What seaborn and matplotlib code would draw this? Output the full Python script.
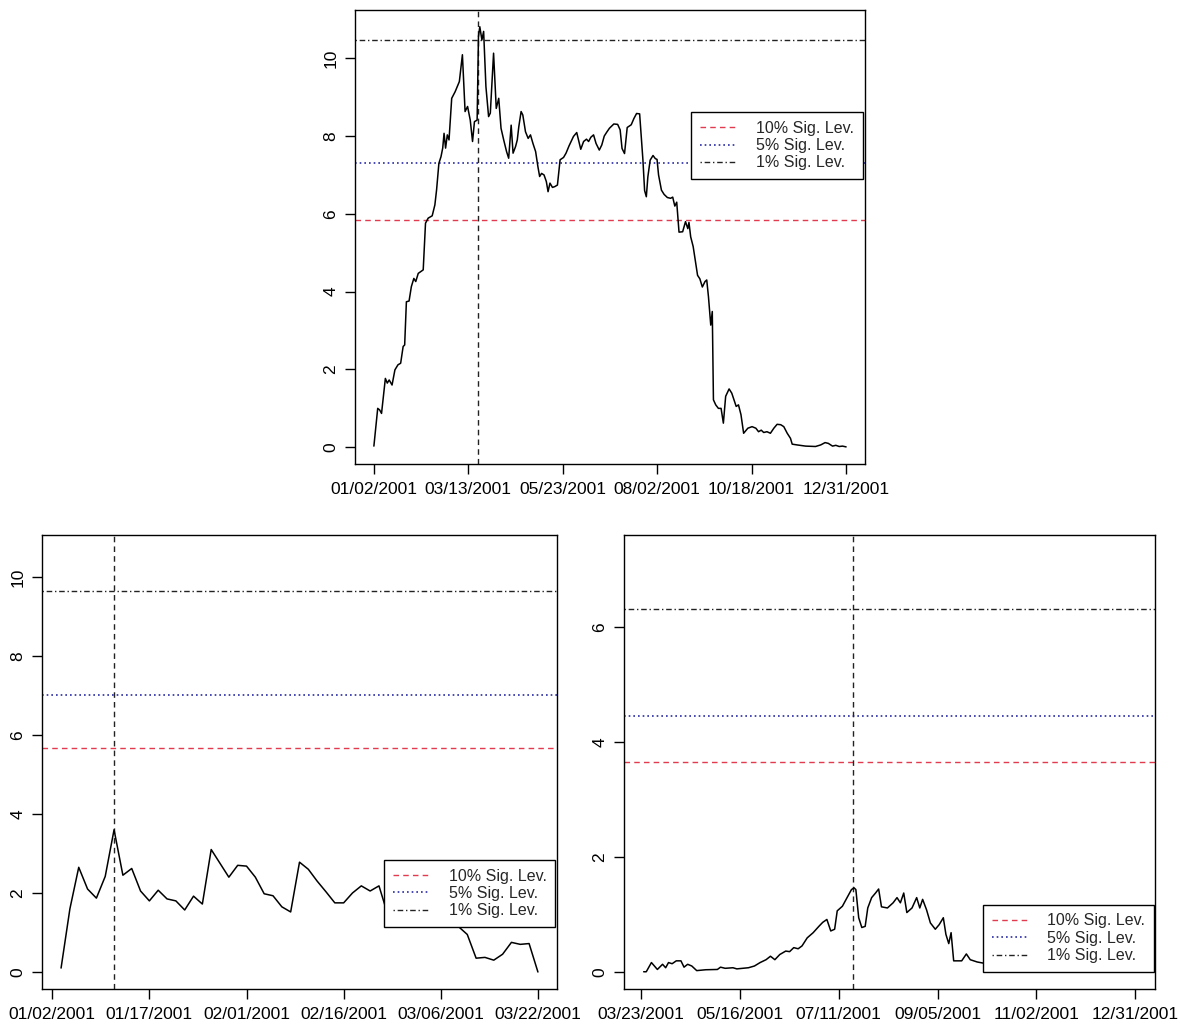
import numpy as np
import matplotlib
matplotlib.use("Agg")
import matplotlib.pyplot as plt
import seaborn as sns

sns.set_style("white")
plt.rcParams['font.family'] = ['Liberation Sans', 'DejaVu Sans']

# ---------------- data ----------------
legend_labels = ["10% Sig. Lev.", "5% Sig. Lev.", "1% Sig. Lev."]

# top panel: full year 2001 (trading-day index)
top_ticklabels = ["01/02/2001", "03/13/2001", "05/23/2001", "08/02/2001", "10/18/2001", "12/31/2001"]
top_idx = [0, 2, 3, 4, 6, 7, 8, 9.5, 11, 12.6, 14, 15.3, 16.1, 17, 18.4, 19.6, 20.9, 21.9, 23.2, 25.8,
           27, 28.4, 30.5, 31.9, 32.8, 34, 35.1, 36, 36.7, 37.5, 38.4, 39.3, 40.7, 42.5, 44.7, 46.3,
           47.7, 49, 50.4, 51.6, 52.6, 54, 54.7, 55.4, 56.5, 57.4, 58.6, 60, 60.9, 62.6, 64, 65.3,
           66.5, 67.9, 69.4, 70.5, 71.8, 72.8, 74.1, 75, 75.8, 77, 77.9, 79.3, 80.7, 81.9, 83.2,
           84.6, 85.8, 86.7, 87.7, 89, 90.2, 91.1, 92.1, 93.4, 94.6, 96, 97.4, 99.2, 100.5, 102.1,
           104.4, 106.1, 108.2, 109.7, 111.2, 112.3, 113.5, 114.9, 116.2, 117.9, 119.2, 120.5,
           121.8, 123.2, 125.5, 127.5, 128.8, 129.8, 131.1, 132.5, 134.6, 136, 137.4, 139, 140.7,
           141.6, 142.5, 143.3, 144.5, 146, 147.2, 148.1, 148.9, 150.4, 151.8, 153.5, 155.2, 156.3,
           157.4, 158.4, 159.6, 161.5, 163, 164.2, 164.8, 165.7, 167, 168.3, 169.3, 170.5, 171.8,
           173.2, 174.1, 175, 175.8, 176.2, 177, 177.6, 178.8, 180.2, 181.6, 182.8, 184, 185.8,
           187.2, 188.6, 189.5, 190.7, 192, 193.4, 195.6, 197.8, 199.8, 201.2, 202.6, 203.9, 205.6,
           207.4, 209.2, 210.9, 212.8, 214.4, 216.2, 217.9, 218.8, 221.4, 225.8, 231, 233.7, 236,
           237.7, 239.9, 241.6, 243.4, 245.1, 247]
top_val = [0.03, 1.0, 0.96, 0.87, 1.77, 1.65, 1.73, 1.6, 1.99, 2.12, 2.16, 2.59, 2.63, 3.74, 3.76, 4.13,
           4.34, 4.26, 4.47, 4.56, 5.76, 5.89, 5.95, 6.23, 6.62, 7.30, 7.47, 7.69, 8.07, 7.69, 8.03,
           7.9, 8.97, 9.14, 9.4, 10.09, 8.63, 8.76, 8.41, 7.86, 8.37, 8.41, 10.56, 10.81, 10.47,
           10.69, 9.27, 8.5, 8.59, 10.13, 8.71, 8.97, 8.2, 7.9, 7.6, 7.43, 8.28, 7.56, 7.73, 7.9,
           8.24, 8.63, 8.54, 8.11, 7.94, 8.03, 7.81, 7.6, 7.21, 6.96, 7.04, 7.0, 6.83, 6.57, 6.79,
           6.68, 6.7, 6.74, 7.39, 7.45, 7.56, 7.75, 7.99, 8.09, 7.66, 7.86, 7.92, 7.86, 7.97, 8.03,
           7.81, 7.64, 7.77, 8.0, 8.1, 8.2, 8.31, 8.3, 8.16, 7.68, 7.55, 8.22, 8.29, 8.45, 8.58,
           8.57, 7.4, 6.6, 6.44, 6.95, 7.38, 7.5, 7.42, 7.4, 7.0, 6.61, 6.5, 6.42, 6.4, 6.43, 6.2,
           6.3, 5.53, 5.54, 5.8, 5.62, 5.78, 5.41, 5.16, 4.75, 4.42, 4.33, 4.12, 4.26, 4.3, 3.87,
           3.4, 3.14, 3.49, 1.22, 1.09, 1.0, 1.0, 0.62, 1.31, 1.5, 1.39, 1.18, 1.05, 1.09, 0.84,
           0.36, 0.49, 0.53, 0.49, 0.4, 0.44, 0.38, 0.4, 0.36, 0.49, 0.59, 0.58, 0.53, 0.36, 0.23,
           0.08, 0.06, 0.03, 0.02, 0.06, 0.12, 0.1, 0.03, 0.05, 0.02, 0.03, 0.01]
top_levels = [5.84, 7.30, 10.47]
top_break = 54.4

# bottom-left panel: 01/02/2001 - 03/22/2001
bl_ticklabels = ["01/02/2001", "01/17/2001", "02/01/2001", "02/16/2001", "03/06/2001", "03/22/2001"]
bl_idx = list(range(1, 56))
bl_val = [0.1, 1.6, 2.65, 2.1, 1.87, 2.42, 3.6, 2.45, 2.62, 2.05, 1.8, 2.07, 1.85, 1.8, 1.57,
          1.92, 1.72, 3.1, 2.75, 2.4, 2.7, 2.68, 2.4, 1.98, 1.93, 1.65, 1.52, 2.78, 2.6, 2.3,
          2.03, 1.75, 1.75, 2.0, 2.18, 2.05, 2.18, 1.45, 1.5, 1.6, 1.4, 1.5, 1.3, 1.3, 1.2,
          1.15, 0.95, 0.35, 0.37, 0.3, 0.45, 0.75, 0.7, 0.72, 0.0]
bl_levels = [5.68, 7.01, 9.65]
bl_break = 7

# bottom-right panel: 03/23/2001 - 12/31/2001
br_ticklabels = ["03/23/2001", "05/16/2001", "07/11/2001", "09/05/2001", "11/02/2001", "12/31/2001"]
br_idx = [1, 2, 4, 6.3, 8.3, 9.5, 10.6, 12, 13.6, 15.4, 16.6, 18, 19.6, 21.5, 25, 29.5, 30.7, 32.5,
          35.5, 37, 41.5, 43.8, 46, 48.3, 50, 51.7, 53.6, 55.9, 57.4, 59, 60.7, 62.2, 64.2, 66.5,
          68.7, 70.2, 71.8, 73.3, 74.8, 75.8, 77.8, 79.6, 81.3, 82.3, 83, 84.1, 85.3, 86.6, 87.6,
          89.1, 90.6, 91.8, 92.9, 95.2, 97.4, 98.9, 100.2, 101.5, 102.7, 104.7, 106.5, 107.7,
          108.8, 110.3, 111.8, 113.7, 115.2, 116.8, 117.8, 118.9, 119.8, 120.8, 123.9, 125.7,
          127.2, 129.9, 132.9, 140, 150, 160, 170, 180, 191]
br_val = [0.0, 0.0, 0.16, 0.04, 0.13, 0.07, 0.16, 0.14, 0.19, 0.19, 0.08, 0.13, 0.1, 0.02, 0.035,
          0.04, 0.08, 0.06, 0.07, 0.05, 0.07, 0.1, 0.16, 0.21, 0.27, 0.21, 0.3, 0.36, 0.35, 0.42,
          0.4, 0.45, 0.59, 0.68, 0.79, 0.86, 0.91, 0.71, 0.74, 1.06, 1.14, 1.29, 1.43, 1.46, 1.43,
          0.94, 0.77, 0.79, 1.11, 1.29, 1.37, 1.44, 1.13, 1.11, 1.2, 1.29, 1.2, 1.37, 1.03, 1.11,
          1.29, 1.11, 1.26, 1.08, 0.85, 0.74, 0.82, 0.94, 0.65, 0.49, 0.68, 0.19, 0.19, 0.31,
          0.21, 0.17, 0.145, 0.12, 0.1, 0.08, 0.06, 0.04, 0.02]
br_levels = [3.65, 4.45, 6.31]
br_break = 82

# ---------------- styling ----------------
W, H = 1180, 1025
fig = plt.figure(figsize=(W / 100, H / 100), dpi=100)

def px_axes(left, right, top, bottom):
    return fig.add_axes([left / W, 1 - bottom / H, (right - left) / W, (bottom - top) / H])

ax_top = px_axes(355, 865, 10, 464)
ax_bl = px_axes(42, 557, 535, 989)
ax_br = px_axes(624, 1155, 535, 989)

level_styles = [
    dict(color="#e23b50", linestyle=(0, (4, 3)), linewidth=1.0),
    dict(color="#2a2aa8", linestyle=(0, (1, 1.8)), linewidth=1.2),
    dict(color="#222222", linestyle=(0, (1, 2, 4, 2)), linewidth=1.0),
]


def draw_panel(ax, idx, val, levels, brk, ticklabels, tick_end, xlim, ylim, yticks,
               legend_anchor):
    sns.lineplot(x=idx, y=val, ax=ax, color="black", linewidth=1.1, estimator=None,
                 sort=False, zorder=3)
    handles = []
    for lev, st in zip(levels, level_styles):
        h = ax.axhline(lev, zorder=2, **st)
        handles.append(h)
    ax.axvline(brk, color="#222222", linestyle=(0, (4, 3)), linewidth=1.0, zorder=2)
    ax.set_xlim(*xlim)
    ax.set_ylim(*ylim)
    ax.set_xticks(np.linspace(0, tick_end, len(ticklabels)))
    ax.set_xticklabels(ticklabels)
    ax.set_yticks(yticks)
    ax.set_yticklabels([str(t) for t in yticks])
    ax.tick_params(axis="both", direction="out", length=7, width=1, color="black",
                   labelsize=12.5, labelcolor="black", bottom=True, left=True)
    ax.tick_params(axis="x", pad=6)
    ax.tick_params(axis="y", pad=5)
    for lab in ax.get_yticklabels():
        lab.set_rotation(90)
        lab.set_va("center")
    for sp in ax.spines.values():
        sp.set_visible(True)
        sp.set_color("black")
        sp.set_linewidth(1.0)
    ax.set_xlabel("")
    ax.set_ylabel("")
    leg = ax.legend(handles, legend_labels, loc="upper right", bbox_to_anchor=legend_anchor,
                    borderaxespad=0, frameon=True, fancybox=False, framealpha=1,
                    edgecolor="black", fontsize=11.5, handlelength=2.3, handletextpad=1.2,
                    labelspacing=0.15, borderpad=0.55)
    leg.get_frame().set_linewidth(1.0)
    leg.set_zorder(5)


draw_panel(ax_top, top_idx, top_val, top_levels, top_break, top_ticklabels, 247,
           (-9.88, 256.88), (-0.43, 11.24), [0, 2, 4, 6, 8, 10], (0.996, 0.7755))
draw_panel(ax_bl, bl_idx, bl_val, bl_levels, bl_break, bl_ticklabels, 55,
           (-1.16, 57.16), (-0.43, 11.06), [0, 2, 4, 6, 8, 10], (0.997, 0.2846))
draw_panel(ax_br, br_idx, br_val, br_levels, br_break, br_ticklabels, 191,
           (-6.6, 198.6), (-0.30, 7.6), [0, 2, 4, 6], (0.9985, 0.186))

fig.savefig("out.png", dpi=100)
